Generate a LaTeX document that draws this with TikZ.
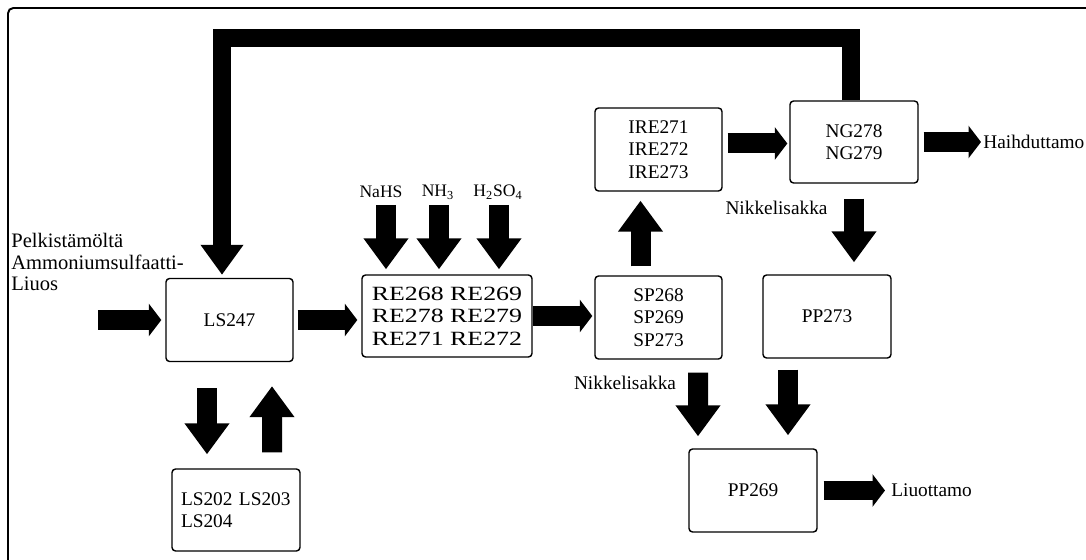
\documentclass[tikz,border=0pt]{standalone}
\usepackage{fontspec}
\setmainfont{Liberation Serif}
\newfontfamily\boxfont{Liberation Serif}
\newfontfamily\widefont[FakeStretch=1.28]{Liberation Serif}
\usetikzlibrary{arrows.meta, positioning, calc}

\begin{document}
\begin{tikzpicture}[x=0.02cm, y=-0.02cm,
    unit/.style={draw, line width=0.8pt, rounded corners=2pt, minimum width=2.54cm,
      minimum height=1.66cm, align=center, font=\boxfont\fontsize{11}{12.8}\selectfont},
    lbl/.style={inner sep=0pt, font=\boxfont\fontsize{11}{12.2}\selectfont},
    hflow/.style={line width=0.4cm, -{Triangle[width=0.64cm, length=0.25cm]}},
    vflow/.style={line width=0.4cm, -{Triangle[width=0.86cm, length=0.62cm]}}]
    \useasboundingbox (0,0) rectangle (1086,560);
    \draw[line width=1.1pt, rounded corners=3pt] (8,8) rectangle (1110,580);

    \node[unit] (ls247) at (229.5,320) {LS247};
    \node[unit, minimum width=2.56cm, minimum height=1.64cm, align=left, text width=2.2cm] (ls202) at (236,510) {LS202 LS203\\LS204};
    \node[unit, minimum width=3.4cm, minimum height=1.64cm, font=\widefont\fontsize{11.5}{12.8}\selectfont] (re) at (447,316) {RE268 RE269\\RE278 RE279\\RE271 RE272};
    \node[unit] (sp) at (658.5,317.5) {SP268\\SP269\\SP273};
    \node[unit] (ire) at (658.5,149.5) {IRE271\\IRE272\\IRE273};
    \node[unit, minimum width=2.56cm, minimum height=1.64cm] (ng) at (854,142) {NG278\\NG279};
    \node[unit, minimum width=2.56cm] (pp273) at (827,316.5) {PP273};
    \node[unit, minimum width=2.56cm] (pp269) at (753,490.5) {PP269};

    \node[lbl, anchor=west, align=left, font=\boxfont\fontsize{11.7}{12.4}\selectfont] (feed) at (11,262) {Pelkistämöltä\\Ammoniumsulfaatti-\\Liuos};
    \node[lbl, font=\boxfont\fontsize{10}{12}\selectfont] (nahs) at (381,192) {NaHS};
    \node[lbl, font=\boxfont\fontsize{10}{12}\selectfont] (nh3) at (438,192) {NH\textsubscript{3}};
    \node[lbl, font=\boxfont\fontsize{10}{12}\selectfont] (h2so4) at (498,192) {H\textsubscript{2}SO\textsubscript{4}};
    \node[lbl, anchor=west] (haih) at (983,142) {Haihduttamo};
    \node[lbl, anchor=west] (liuot) at (891,490.5) {Liuottamo};
    \node[lbl] (nik1) at (776.5,208) {Nikkelisakka};
    \node[lbl] (nik2) at (625,383) {Nikkelisakka};
    \coordinate (in) at (98,320);
    \coordinate (loop) at (222,38);

    \draw[hflow, shorten >=0.08cm] (in) -- (in -| ls247.west);
    \draw[hflow, shorten <=0.08cm, shorten >=0.08cm] (ls247.east) -- (ls247.east -| re.west);
    \draw[hflow, shorten >=0.04cm] (re.east) -- (re.east -| sp.west);
    \draw[hflow, shorten <=0.1cm, shorten >=0.04cm] ($(ire.east)+(0,-6)$) -- ($(ire.east -| ng.west)+(0,-6)$);
    \draw[hflow, shorten <=0.1cm, shorten >=0.04cm] (ng.east) -- (ng.east -| haih.west);
    \draw[hflow, shorten <=0.12cm, shorten >=0.12cm] (pp269.east) -- (pp269.east -| liuot.west);

    \draw[vflow, shorten <=0.18cm, shorten >=0.18cm] ($(sp.north)+(-18,0)$) -- ($(ire.south)+(-18,0)$);
    \draw[vflow, shorten <=0.3cm, shorten >=0.24cm] (ng.south) -- (ng.south |- pp273.north);
    \draw[vflow, shorten <=0.26cm, shorten >=0.24cm] ($(sp.south)+(39.5,0)$) -- ($(pp269.north)+(-55,0)$);
    \draw[vflow, shorten <=0.22cm, shorten >=0.26cm] ($(pp273.south)+(-39,0)$) -- ($(pp269.north)+(35,0)$);
    \draw[vflow, shorten <=0.52cm, shorten >=0.28cm] ($(ls247.south)+(-22.5,0)$) -- ($(ls202.north)+(-29,0)$);
    \draw[vflow, shorten <=0.32cm, shorten >=0.48cm] ($(ls202.north)+(36,0)$) -- ($(ls247.south)+(42.5,0)$);
    \draw[vflow, shorten >=0.1cm] ($(nahs.center)+(5,13)$) -- ($(nahs.center |- re.north)+(5,0)$);
    \draw[vflow, shorten >=0.1cm] ($(nh3.center)+(1,13)$) -- ($(nh3.center |- re.north)+(1,0)$);
    \draw[vflow, shorten >=0.1cm] ($(h2so4.center)+(1,13)$) -- ($(h2so4.center |- re.north)+(1,0)$);

    \draw[line width=0.37cm, -{Triangle[width=0.82cm, length=0.6cm]}, shorten >=0.06cm] ($(ng.north)+(-3,0)$) |- (loop) -- (loop |- ls247.north);
  \end{tikzpicture}
\end{document}
